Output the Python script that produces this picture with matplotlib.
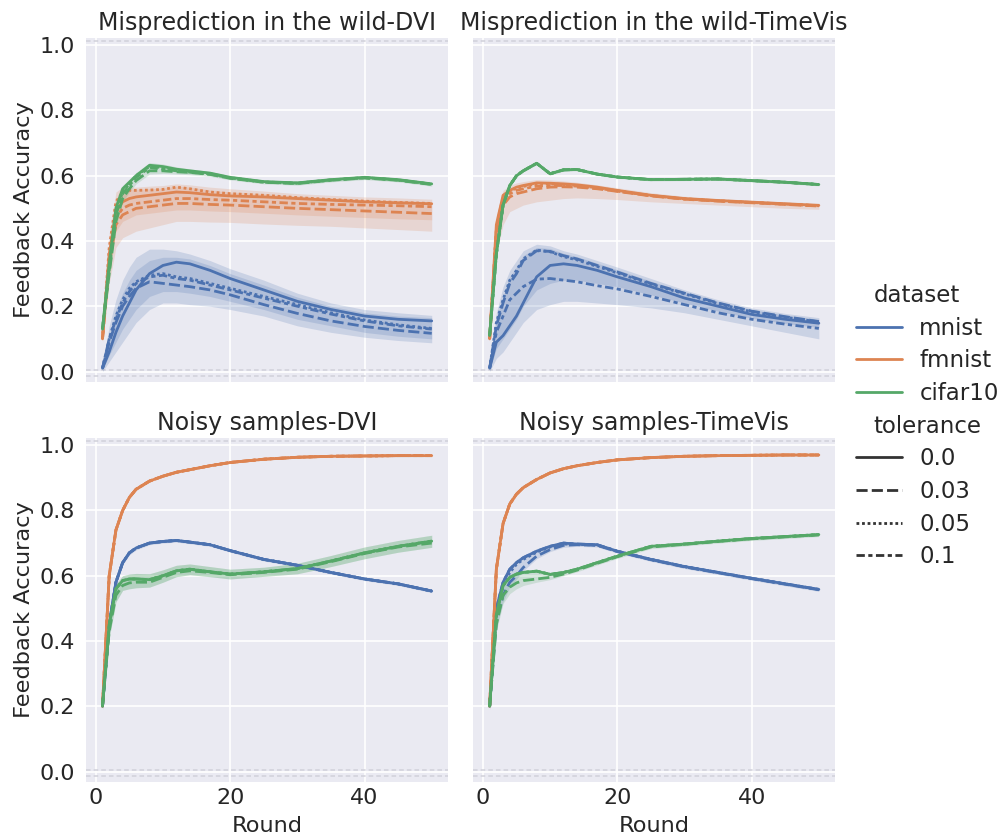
import matplotlib
matplotlib.use("Agg")
import matplotlib.pyplot as plt
import matplotlib.offsetbox as moff
from matplotlib.lines import Line2D
import seaborn as sns

# ---------------------------------------------------------------- data
ROUNDS = [1, 2, 3, 4, 5, 6, 8, 10, 12, 14, 17, 20, 25, 30, 35, 40, 45, 50]
DATASETS = ["mnist", "fmnist", "cifar10"]
TOLERANCES = ["0.0", "0.03", "0.05", "0.1"]
PANEL_TITLES = [
    "Misprediction in the wild-DVI",
    "Misprediction in the wild-TimeVis",
    "Noisy samples-DVI",
    "Noisy samples-TimeVis",
]

# Misprediction in the wild - DVI
wild_dvi_mnist_00 = [0.01, 0.06, 0.12, 0.17, 0.21, 0.25, 0.30, 0.325, 0.335, 0.33, 0.31, 0.285, 0.25, 0.215, 0.19, 0.17, 0.16, 0.155]
wild_dvi_mnist_003 = [0.01, 0.09, 0.15, 0.20, 0.23, 0.255, 0.275, 0.27, 0.265, 0.26, 0.25, 0.235, 0.205, 0.178, 0.155, 0.138, 0.126, 0.117]
wild_dvi_mnist_005 = [0.01, 0.10, 0.17, 0.22, 0.255, 0.275, 0.295, 0.30, 0.29, 0.285, 0.27, 0.255, 0.23, 0.205, 0.18, 0.158, 0.143, 0.132]
wild_dvi_mnist_01 = [0.01, 0.10, 0.16, 0.21, 0.245, 0.27, 0.29, 0.295, 0.285, 0.28, 0.265, 0.25, 0.225, 0.20, 0.176, 0.155, 0.14, 0.13]
wild_dvi_mnist_lo = [0.0, 0.03, 0.06, 0.09, 0.12, 0.15, 0.19, 0.21, 0.21, 0.205, 0.20, 0.19, 0.17, 0.14, 0.12, 0.105, 0.095, 0.088]
wild_dvi_mnist_hi = [0.02, 0.14, 0.22, 0.28, 0.32, 0.35, 0.375, 0.375, 0.37, 0.36, 0.34, 0.315, 0.28, 0.24, 0.21, 0.19, 0.18, 0.172]
wild_dvi_mnist_lo2 = [0.005, 0.05, 0.09, 0.13, 0.16, 0.19, 0.23, 0.245, 0.245, 0.24, 0.23, 0.215, 0.19, 0.16, 0.14, 0.12, 0.108, 0.10]
wild_dvi_mnist_hi2 = [0.015, 0.11, 0.19, 0.24, 0.28, 0.31, 0.34, 0.35, 0.35, 0.345, 0.325, 0.30, 0.265, 0.228, 0.20, 0.18, 0.17, 0.165]

wild_dvi_fmnist_00 = [0.10, 0.36, 0.49, 0.52, 0.53, 0.535, 0.54, 0.545, 0.55, 0.548, 0.542, 0.538, 0.535, 0.53, 0.525, 0.52, 0.517, 0.514]
wild_dvi_fmnist_003 = [0.10, 0.33, 0.45, 0.48, 0.49, 0.50, 0.505, 0.51, 0.515, 0.515, 0.512, 0.51, 0.505, 0.50, 0.496, 0.492, 0.488, 0.484]
wild_dvi_fmnist_005 = [0.10, 0.38, 0.52, 0.55, 0.555, 0.555, 0.556, 0.558, 0.565, 0.56, 0.55, 0.545, 0.54, 0.533, 0.527, 0.522, 0.518, 0.515]
wild_dvi_fmnist_01 = [0.10, 0.35, 0.47, 0.50, 0.51, 0.515, 0.52, 0.525, 0.53, 0.53, 0.527, 0.525, 0.52, 0.515, 0.512, 0.51, 0.508, 0.505]
wild_dvi_fmnist_lo = [0.09, 0.27, 0.38, 0.41, 0.42, 0.43, 0.44, 0.45, 0.46, 0.46, 0.458, 0.457, 0.452, 0.448, 0.445, 0.44, 0.435, 0.43]
wild_dvi_fmnist_hi = [0.11, 0.42, 0.55, 0.565, 0.565, 0.565, 0.568, 0.57, 0.575, 0.572, 0.565, 0.56, 0.553, 0.545, 0.54, 0.535, 0.532, 0.528]
wild_dvi_fmnist_lo2 = [0.095, 0.31, 0.43, 0.46, 0.47, 0.48, 0.485, 0.49, 0.495, 0.495, 0.492, 0.49, 0.485, 0.48, 0.476, 0.472, 0.468, 0.465]
wild_dvi_fmnist_hi2 = [0.105, 0.39, 0.53, 0.555, 0.558, 0.558, 0.56, 0.562, 0.568, 0.565, 0.556, 0.55, 0.545, 0.538, 0.532, 0.527, 0.524, 0.52]

wild_dvi_cifar10_00 = [0.13, 0.33, 0.50, 0.56, 0.58, 0.60, 0.632, 0.628, 0.62, 0.615, 0.608, 0.595, 0.582, 0.578, 0.588, 0.595, 0.588, 0.575]
wild_dvi_cifar10_003 = [0.13, 0.30, 0.46, 0.53, 0.56, 0.585, 0.615, 0.615, 0.612, 0.61, 0.604, 0.592, 0.58, 0.576, 0.586, 0.593, 0.586, 0.573]
wild_dvi_cifar10_005 = [0.13, 0.32, 0.49, 0.55, 0.575, 0.60, 0.628, 0.625, 0.618, 0.612, 0.606, 0.594, 0.581, 0.577, 0.587, 0.594, 0.587, 0.574]
wild_dvi_cifar10_01 = [0.13, 0.31, 0.48, 0.545, 0.57, 0.595, 0.625, 0.62, 0.615, 0.611, 0.605, 0.593, 0.58, 0.577, 0.587, 0.594, 0.587, 0.574]
wild_dvi_cifar10_lo = [0.12, 0.28, 0.44, 0.52, 0.55, 0.575, 0.605, 0.607, 0.605, 0.603, 0.598, 0.587, 0.575, 0.571, 0.581, 0.588, 0.581, 0.568]
wild_dvi_cifar10_hi = [0.14, 0.35, 0.52, 0.57, 0.59, 0.61, 0.64, 0.636, 0.627, 0.621, 0.613, 0.6, 0.587, 0.583, 0.593, 0.6, 0.593, 0.58]

# Misprediction in the wild - TimeVis
wild_tv_mnist_00 = [0.01, 0.09, 0.11, 0.14, 0.17, 0.21, 0.29, 0.325, 0.33, 0.325, 0.31, 0.29, 0.26, 0.225, 0.20, 0.175, 0.16, 0.148]
wild_tv_mnist_003 = [0.01, 0.14, 0.21, 0.27, 0.30, 0.34, 0.37, 0.368, 0.355, 0.345, 0.325, 0.305, 0.27, 0.24, 0.21, 0.185, 0.168, 0.153]
wild_tv_mnist_005 = [0.01, 0.15, 0.22, 0.28, 0.31, 0.345, 0.372, 0.367, 0.352, 0.342, 0.322, 0.302, 0.268, 0.238, 0.208, 0.183, 0.166, 0.152]
wild_tv_mnist_01 = [0.01, 0.12, 0.17, 0.22, 0.24, 0.26, 0.283, 0.285, 0.28, 0.275, 0.263, 0.253, 0.23, 0.205, 0.18, 0.16, 0.145, 0.132]
wild_tv_mnist_lo = [0.0, 0.04, 0.06, 0.09, 0.12, 0.15, 0.19, 0.205, 0.215, 0.215, 0.21, 0.205, 0.195, 0.18, 0.16, 0.14, 0.12, 0.10]
wild_tv_mnist_hi = [0.02, 0.18, 0.26, 0.31, 0.34, 0.37, 0.39, 0.385, 0.37, 0.36, 0.34, 0.32, 0.285, 0.25, 0.22, 0.195, 0.178, 0.165]
wild_tv_mnist_lo2 = [0.005, 0.07, 0.10, 0.13, 0.16, 0.20, 0.25, 0.27, 0.28, 0.28, 0.27, 0.26, 0.235, 0.21, 0.185, 0.163, 0.147, 0.135]
wild_tv_mnist_hi2 = [0.015, 0.16, 0.23, 0.29, 0.32, 0.355, 0.38, 0.377, 0.362, 0.352, 0.332, 0.312, 0.277, 0.245, 0.215, 0.19, 0.173, 0.16]

wild_tv_fmnist_00 = [0.10, 0.45, 0.54, 0.555, 0.565, 0.57, 0.578, 0.577, 0.575, 0.572, 0.565, 0.555, 0.54, 0.53, 0.524, 0.519, 0.514, 0.509]
wild_tv_fmnist_003 = [0.10, 0.42, 0.51, 0.535, 0.545, 0.55, 0.56, 0.565, 0.566, 0.565, 0.56, 0.552, 0.538, 0.528, 0.522, 0.517, 0.512, 0.507]
wild_tv_fmnist_005 = [0.10, 0.44, 0.535, 0.553, 0.562, 0.567, 0.575, 0.575, 0.573, 0.57, 0.563, 0.554, 0.539, 0.529, 0.523, 0.518, 0.513, 0.508]
wild_tv_fmnist_01 = [0.10, 0.43, 0.525, 0.545, 0.555, 0.56, 0.568, 0.57, 0.57, 0.568, 0.562, 0.553, 0.539, 0.529, 0.523, 0.518, 0.513, 0.508]
wild_tv_fmnist_lo = [0.09, 0.36, 0.45, 0.49, 0.50, 0.51, 0.52, 0.525, 0.53, 0.532, 0.53, 0.527, 0.52, 0.515, 0.51, 0.505, 0.50, 0.497]
wild_tv_fmnist_hi = [0.11, 0.48, 0.555, 0.57, 0.578, 0.582, 0.588, 0.587, 0.584, 0.58, 0.572, 0.563, 0.548, 0.537, 0.53, 0.525, 0.52, 0.516]

wild_tv_cifar10_00 = [0.11, 0.36, 0.51, 0.57, 0.60, 0.615, 0.638, 0.606, 0.618, 0.619, 0.605, 0.596, 0.588, 0.589, 0.59, 0.585, 0.58, 0.573]
wild_tv_cifar10_lo = [0.105, 0.35, 0.50, 0.565, 0.596, 0.611, 0.634, 0.602, 0.614, 0.615, 0.601, 0.592, 0.584, 0.585, 0.586, 0.581, 0.576, 0.569]
wild_tv_cifar10_hi = [0.115, 0.37, 0.52, 0.575, 0.604, 0.619, 0.642, 0.61, 0.622, 0.623, 0.609, 0.6, 0.592, 0.593, 0.594, 0.589, 0.584, 0.577]

# Noisy samples - DVI
noisy_dvi_mnist_00 = [0.20, 0.45, 0.58, 0.64, 0.67, 0.685, 0.70, 0.705, 0.708, 0.703, 0.695, 0.677, 0.65, 0.632, 0.61, 0.59, 0.575, 0.553]
noisy_dvi_mnist_lo = [0.195, 0.44, 0.572, 0.633, 0.664, 0.679, 0.695, 0.7, 0.703, 0.698, 0.69, 0.672, 0.645, 0.627, 0.605, 0.585, 0.57, 0.548]
noisy_dvi_mnist_hi = [0.205, 0.46, 0.588, 0.647, 0.676, 0.691, 0.705, 0.71, 0.713, 0.708, 0.7, 0.682, 0.655, 0.637, 0.615, 0.595, 0.58, 0.558]

noisy_dvi_fmnist_00 = [0.20, 0.60, 0.74, 0.80, 0.84, 0.865, 0.89, 0.905, 0.917, 0.925, 0.937, 0.947, 0.957, 0.963, 0.966, 0.967, 0.968, 0.968]
noisy_dvi_fmnist_lo = [0.195, 0.59, 0.733, 0.795, 0.836, 0.861, 0.887, 0.902, 0.914, 0.922, 0.934, 0.944, 0.954, 0.96, 0.963, 0.964, 0.965, 0.965]
noisy_dvi_fmnist_hi = [0.205, 0.61, 0.747, 0.805, 0.844, 0.869, 0.893, 0.908, 0.92, 0.928, 0.94, 0.95, 0.96, 0.966, 0.969, 0.97, 0.971, 0.971]

noisy_dvi_cifar10_00 = [0.20, 0.45, 0.56, 0.585, 0.59, 0.59, 0.588, 0.60, 0.615, 0.62, 0.612, 0.605, 0.612, 0.622, 0.645, 0.67, 0.69, 0.706]
noisy_dvi_cifar10_003 = [0.20, 0.43, 0.54, 0.57, 0.578, 0.58, 0.58, 0.595, 0.61, 0.615, 0.61, 0.603, 0.61, 0.62, 0.643, 0.668, 0.688, 0.70]
noisy_dvi_cifar10_lo = [0.19, 0.41, 0.52, 0.555, 0.56, 0.563, 0.565, 0.58, 0.597, 0.603, 0.597, 0.59, 0.598, 0.606, 0.628, 0.652, 0.672, 0.687]
noisy_dvi_cifar10_hi = [0.21, 0.47, 0.575, 0.60, 0.605, 0.607, 0.606, 0.618, 0.632, 0.636, 0.628, 0.62, 0.626, 0.638, 0.662, 0.688, 0.708, 0.724]

# Noisy samples - TimeVis
noisy_tv_mnist_00 = [0.20, 0.50, 0.58, 0.62, 0.64, 0.655, 0.675, 0.69, 0.70, 0.697, 0.695, 0.675, 0.65, 0.628, 0.61, 0.592, 0.575, 0.558]
noisy_tv_mnist_003 = [0.20, 0.46, 0.54, 0.58, 0.60, 0.625, 0.66, 0.68, 0.693, 0.695, 0.693, 0.674, 0.649, 0.627, 0.609, 0.591, 0.574, 0.557]
noisy_tv_mnist_005 = [0.20, 0.49, 0.57, 0.61, 0.635, 0.65, 0.672, 0.688, 0.697, 0.696, 0.694, 0.675, 0.65, 0.628, 0.61, 0.592, 0.575, 0.558]
noisy_tv_mnist_lo = [0.19, 0.44, 0.52, 0.565, 0.59, 0.615, 0.652, 0.674, 0.687, 0.69, 0.688, 0.669, 0.644, 0.622, 0.604, 0.586, 0.569, 0.552]
noisy_tv_mnist_hi = [0.21, 0.51, 0.59, 0.63, 0.65, 0.663, 0.683, 0.697, 0.705, 0.703, 0.7, 0.681, 0.656, 0.634, 0.616, 0.598, 0.581, 0.564]

noisy_tv_fmnist_00 = [0.20, 0.62, 0.76, 0.82, 0.85, 0.87, 0.895, 0.915, 0.928, 0.937, 0.947, 0.955, 0.962, 0.966, 0.968, 0.969, 0.97, 0.97]
noisy_tv_fmnist_lo = [0.195, 0.61, 0.753, 0.815, 0.846, 0.866, 0.892, 0.912, 0.925, 0.934, 0.944, 0.952, 0.959, 0.963, 0.965, 0.966, 0.967, 0.967]
noisy_tv_fmnist_hi = [0.205, 0.63, 0.767, 0.825, 0.854, 0.874, 0.898, 0.918, 0.931, 0.94, 0.95, 0.958, 0.965, 0.969, 0.971, 0.972, 0.973, 0.973]

noisy_tv_cifar10_00 = [0.20, 0.48, 0.57, 0.595, 0.605, 0.61, 0.614, 0.604, 0.61, 0.62, 0.64, 0.66, 0.69, 0.697, 0.706, 0.714, 0.72, 0.726]
noisy_tv_cifar10_003 = [0.20, 0.45, 0.54, 0.565, 0.578, 0.585, 0.59, 0.595, 0.605, 0.617, 0.638, 0.658, 0.688, 0.696, 0.705, 0.713, 0.719, 0.725]
noisy_tv_cifar10_lo = [0.19, 0.43, 0.515, 0.545, 0.56, 0.57, 0.58, 0.588, 0.6, 0.612, 0.633, 0.653, 0.683, 0.691, 0.7, 0.708, 0.714, 0.72]
noisy_tv_cifar10_hi = [0.21, 0.49, 0.58, 0.603, 0.612, 0.617, 0.62, 0.61, 0.616, 0.626, 0.646, 0.666, 0.696, 0.703, 0.712, 0.72, 0.726, 0.732]

# ---------------------------------------------------------------- lookup tables
LINES = [
    {  # wild, DVI
        "mnist": [wild_dvi_mnist_00, wild_dvi_mnist_003, wild_dvi_mnist_005, wild_dvi_mnist_01],
        "fmnist": [wild_dvi_fmnist_00, wild_dvi_fmnist_003, wild_dvi_fmnist_005, wild_dvi_fmnist_01],
        "cifar10": [wild_dvi_cifar10_00, wild_dvi_cifar10_003, wild_dvi_cifar10_005, wild_dvi_cifar10_01],
    },
    {  # wild, TimeVis
        "mnist": [wild_tv_mnist_00, wild_tv_mnist_003, wild_tv_mnist_005, wild_tv_mnist_01],
        "fmnist": [wild_tv_fmnist_00, wild_tv_fmnist_003, wild_tv_fmnist_005, wild_tv_fmnist_01],
        "cifar10": [wild_tv_cifar10_00] * 4,
    },
    {  # noisy, DVI
        "mnist": [noisy_dvi_mnist_00] * 4,
        "fmnist": [noisy_dvi_fmnist_00] * 4,
        "cifar10": [noisy_dvi_cifar10_00, noisy_dvi_cifar10_003, noisy_dvi_cifar10_00, noisy_dvi_cifar10_00],
    },
    {  # noisy, TimeVis
        "mnist": [noisy_tv_mnist_00, noisy_tv_mnist_003, noisy_tv_mnist_005, noisy_tv_mnist_00],
        "fmnist": [noisy_tv_fmnist_00] * 4,
        "cifar10": [noisy_tv_cifar10_00, noisy_tv_cifar10_003, noisy_tv_cifar10_00, noisy_tv_cifar10_00],
    },
]

BANDS = [
    {
        "mnist": [(wild_dvi_mnist_lo, wild_dvi_mnist_hi), (wild_dvi_mnist_lo2, wild_dvi_mnist_hi2)],
        "fmnist": [(wild_dvi_fmnist_lo, wild_dvi_fmnist_hi), (wild_dvi_fmnist_lo2, wild_dvi_fmnist_hi2)],
        "cifar10": [(wild_dvi_cifar10_lo, wild_dvi_cifar10_hi)],
    },
    {
        "mnist": [(wild_tv_mnist_lo, wild_tv_mnist_hi), (wild_tv_mnist_lo2, wild_tv_mnist_hi2)],
        "fmnist": [(wild_tv_fmnist_lo, wild_tv_fmnist_hi)],
        "cifar10": [(wild_tv_cifar10_lo, wild_tv_cifar10_hi)],
    },
    {
        "mnist": [(noisy_dvi_mnist_lo, noisy_dvi_mnist_hi)],
        "fmnist": [(noisy_dvi_fmnist_lo, noisy_dvi_fmnist_hi)],
        "cifar10": [(noisy_dvi_cifar10_lo, noisy_dvi_cifar10_hi), (noisy_dvi_cifar10_lo, noisy_dvi_cifar10_hi)],
    },
    {
        "mnist": [(noisy_tv_mnist_lo, noisy_tv_mnist_hi)],
        "fmnist": [(noisy_tv_fmnist_lo, noisy_tv_fmnist_hi)],
        "cifar10": [(noisy_tv_cifar10_lo, noisy_tv_cifar10_hi)],
    },
]

# ---------------------------------------------------------------- style
sns.set_theme(style="darkgrid")
plt.rcParams["font.family"] = ["DejaVu Sans"]
COLORS = {"mnist": "#4c72b0", "fmnist": "#dd8452", "cifar10": "#55a868"}
DASHES = {"0.0": None, "0.03": (4, 1.5), "0.05": (1, 1), "0.1": (3, 1.25, 1.5, 1.25)}
LW = 2.0
TEXT = "#262626"

fig, axes = plt.subplots(2, 2, figsize=(9.98, 8.39), dpi=100, sharex=True, sharey=True)
fig.subplots_adjust(left=0.0862, right=0.837, bottom=0.068, top=0.9547,
                    wspace=0.069, hspace=0.163)

for idx, ax in enumerate(axes.flat):
    ax.set_facecolor("#eaeaf2")
    ax.grid(True, color="white", lw=1.2)
    # faint reference lines at the bounds of the accuracy range
    for yref in (1.012, 0.004, -0.014):
        ax.axhline(yref, color="#d0d0da", lw=1.1, dashes=(3, 2), zorder=1.5)
    for ds in DATASETS:
        for lo, hi in BANDS[idx][ds]:
            ax.fill_between(ROUNDS, lo, hi, color=COLORS[ds], alpha=0.2, lw=0, zorder=2)
        for tol, vals in zip(TOLERANCES, LINES[idx][ds]):
            ln, = ax.plot(ROUNDS, vals, color=COLORS[ds], lw=LW, zorder=3)
            if DASHES[tol] is not None:
                ln.set_dashes(DASHES[tol])
    ax.set_title(PANEL_TITLES[idx], fontsize=17, color=TEXT)
    ax.set_xlim(-1.45, 52.45)
    ax.set_ylim(-0.032, 1.022)
    ax.set_xticks([0, 20, 40])
    ax.set_yticks([0.0, 0.2, 0.4, 0.6, 0.8, 1.0])
    ax.tick_params(labelsize=16, colors=TEXT, length=0)
    ax.tick_params(axis="y", pad=8)
    ax.tick_params(axis="x", pad=4)
    for s in ax.spines.values():
        s.set_visible(False)

for ax in axes[:, 0]:
    ax.set_ylabel("Feedback Accuracy", fontsize=16.2, color=TEXT, labelpad=4)
for ax in axes[1, :]:
    ax.set_xlabel("Round", fontsize=16.2, color=TEXT, labelpad=6)

# legend with subtitle entries for hue and style
blank = Line2D([], [], visible=False)
handles = [blank]
labels = ["dataset"]
for ds in DATASETS:
    handles.append(Line2D([], [], color=COLORS[ds], lw=LW))
    labels.append(ds)
handles.append(blank)
labels.append("tolerance")
for tol in TOLERANCES:
    h = Line2D([], [], color="#333333", lw=LW)
    if DASHES[tol] is not None:
        h.set_dashes(DASHES[tol])
    handles.append(h)
    labels.append(tol)

leg = fig.legend(handles, labels, loc="center left", bbox_to_anchor=(0.849, 0.492),
                 frameon=False, fontsize=16.5, handlelength=2.0, handletextpad=0.74,
                 labelspacing=0.42, borderaxespad=0)
for txt in leg.get_texts():
    txt.set_color(TEXT)
hpackers = leg.findobj(moff.VPacker)[0].get_children()
for hpack in hpackers:
    draw_area, text_area = hpack.get_children()
    if not all(a.get_visible() for a in draw_area.get_children()):
        draw_area.set_width(0)
        for t in text_area.get_children():
            t.set_size(16.5)

fig.savefig("out.png", dpi=100)
